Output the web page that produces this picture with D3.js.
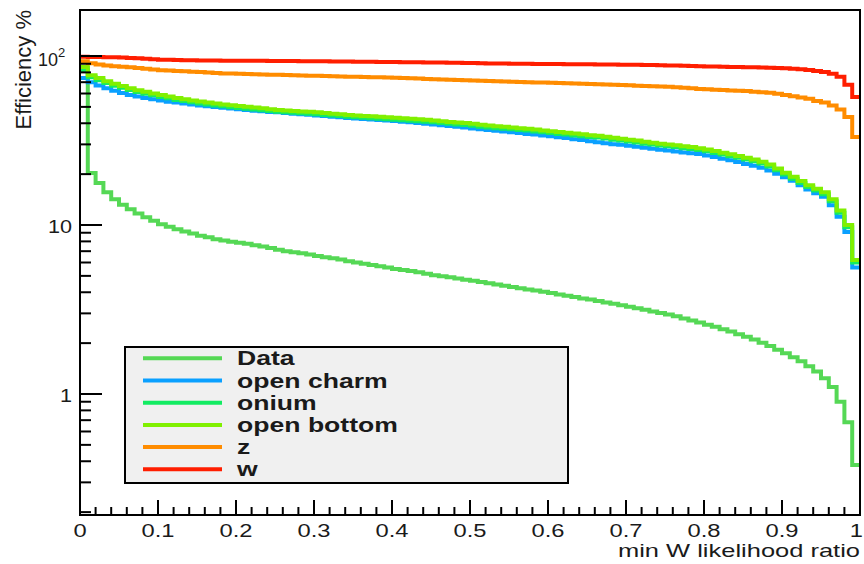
<!DOCTYPE html>
<html>
<head>
<meta charset="utf-8">
<script src="https://cdn.jsdelivr.net/npm/d3@7"></script>
<style>
  body { margin: 0; background: #fff; }
  svg { display: block; }
  text { font-family: "Liberation Sans", Arial, Helvetica, sans-serif; fill: #1a1a1a; }
</style>
</head>
<body>
<svg id="chart" width="864" height="564"></svg>
<script>
// Cumulative efficiency (%) versus the cut on the minimum W likelihood ratio,
// 100 bins of width 0.01 from 0 to 1.
const binWidth = 0.01;

const dataEff = [
  85, 20.3, 17.7, 15.6, 14.2, 13.2, 12.4, 11.7, 11.1, 10.6,
  10.1, 9.75, 9.45, 9.15, 8.9, 8.65, 8.45, 8.25, 8.1, 7.95,
  7.85, 7.75, 7.6, 7.45, 7.3, 7.15, 7.0, 6.9, 6.8, 6.7,
  6.55, 6.45, 6.35, 6.25, 6.1, 6.0, 5.9, 5.8, 5.7, 5.6,
  5.5, 5.42, 5.35, 5.25, 5.15, 5.05, 4.98, 4.9, 4.82, 4.75,
  4.68, 4.6, 4.52, 4.44, 4.37, 4.3, 4.23, 4.16, 4.1, 4.03,
  3.96, 3.88, 3.82, 3.75, 3.68, 3.62, 3.55, 3.48, 3.42, 3.35,
  3.28, 3.22, 3.15, 3.08, 3.02, 2.95, 2.88, 2.8, 2.72, 2.65,
  2.57, 2.5, 2.42, 2.34, 2.26, 2.18, 2.1, 2.01, 1.92, 1.83,
  1.74, 1.65, 1.56, 1.46, 1.36, 1.24, 1.1, 0.9, 0.68, 0.38
];

const openCharmEff = [
  74, 70, 67, 64.5, 62.3, 60.4, 58.8, 57.6, 56.5, 55.5,
  54.6, 53.7, 53.0, 52.3, 51.6, 51.0, 50.4, 49.9, 49.4, 48.9,
  48.4, 47.9, 47.5, 47.1, 46.7, 46.4, 46.0, 45.6, 45.2, 44.9,
  44.5, 44.1, 43.7, 43.4, 43.0, 42.7, 42.4, 42.1, 41.8, 41.5,
  41.2, 40.9, 40.6, 40.2, 39.8, 39.4, 38.9, 38.5, 38.1, 37.7,
  37.3, 36.9, 36.5, 36.1, 35.7, 35.4, 35.0, 34.6, 34.3, 33.9,
  33.5, 33.1, 32.7, 32.2, 31.8, 31.3, 30.9, 30.5, 30.1, 29.8,
  29.4, 29.0, 28.7, 28.3, 27.9, 27.6, 27.2, 26.9, 26.6, 26.3,
  25.8, 25.3, 24.7, 24.2, 23.6, 23.0, 22.4, 21.8, 21.0, 20.1,
  19.2, 18.3, 17.2, 16.2, 15.4, 14.7, 13.1, 11.2, 9.1, 5.6
];

const oniumEff = [
  82, 75, 72, 69.3, 66.8, 64.8, 62.9, 61.2, 59.9, 58.5,
  57.3, 56.2, 55.0, 54.1, 53.2, 52.4, 51.7, 51.0, 50.4, 49.8,
  49.3, 48.8, 48.3, 47.8, 47.2, 46.8, 46.4, 46.1, 45.8, 45.6,
  45.2, 44.8, 44.5, 44.1, 43.7, 43.4, 43.1, 42.9, 42.6, 42.3,
  42.0, 41.7, 41.4, 41.1, 40.8, 40.5, 40.1, 39.7, 39.4, 39.1,
  38.7, 38.2, 37.8, 37.4, 37.1, 36.9, 36.5, 36.2, 35.8, 35.4,
  35.0, 34.6, 34.3, 33.9, 33.5, 33.2, 32.9, 32.5, 32.0, 31.6,
  31.2, 30.8, 30.3, 29.9, 29.5, 29.2, 28.9, 28.5, 28.2, 27.8,
  27.3, 26.7, 26.1, 25.5, 25.0, 24.4, 23.8, 23.1, 22.2, 21.1,
  19.9, 18.8, 17.7, 16.8, 16.0, 15.2, 13.8, 11.8, 9.7, 6.0
];

const openBottomEff = [
  86, 77, 74, 71, 68.5, 66.5, 64.5, 62.8, 61.5, 60.0,
  58.8, 57.6, 56.4, 55.5, 54.6, 53.8, 53.0, 52.3, 51.7, 51.1,
  50.6, 50.1, 49.6, 49.0, 48.4, 48.0, 47.6, 47.3, 47.0, 46.8,
  46.4, 46.0, 45.6, 45.2, 44.8, 44.5, 44.2, 44.0, 43.7, 43.4,
  43.1, 42.8, 42.5, 42.2, 41.9, 41.5, 41.1, 40.7, 40.4, 40.1,
  39.7, 39.2, 38.8, 38.4, 38.1, 37.8, 37.4, 37.1, 36.7, 36.3,
  35.9, 35.5, 35.2, 34.8, 34.4, 34.0, 33.7, 33.3, 32.8, 32.4,
  32.0, 31.6, 31.1, 30.7, 30.3, 30.0, 29.6, 29.2, 28.9, 28.5,
  28.0, 27.4, 26.8, 26.2, 25.6, 25.0, 24.4, 23.7, 22.8, 21.6,
  20.4, 19.3, 18.2, 17.2, 16.4, 15.6, 14.2, 12.2, 10.0, 6.2
];

const zEff = [
  93, 90.5, 89.1, 87.9, 87.0, 86.5, 85.7, 84.9, 84.1, 83.3,
  82.5, 82.1, 81.6, 81.2, 80.7, 80.3, 79.8, 79.4, 78.9, 78.7,
  78.5, 78.3, 78.0, 77.8, 77.6, 77.4, 77.1, 76.9, 76.7, 76.5,
  76.3, 76.1, 75.9, 75.7, 75.5, 75.4, 75.2, 75.0, 74.8, 74.6,
  74.4, 74.1, 73.8, 73.5, 73.2, 72.9, 72.7, 72.4, 72.1, 71.9,
  71.6, 71.4, 71.1, 70.9, 70.7, 70.5, 70.3, 70.0, 69.8, 69.6,
  69.4, 69.2, 69.0, 68.8, 68.5, 68.3, 68.1, 67.9, 67.7, 67.4,
  67.1, 66.8, 66.5, 66.3, 66.0, 65.7, 65.4, 64.9, 64.4, 63.9,
  63.5, 63.2, 62.9, 62.6, 62.3, 62.0, 61.5, 61.0, 60.6, 59.9,
  58.8, 57.8, 56.9, 55.8, 54.2, 53.0, 51.0, 48.2, 43.5, 33.2
];

const wEff = [
  99.0, 98.8, 98.6, 98.4, 98.2, 97.9, 97.5, 97.0, 96.2, 95.6,
  95.2, 94.9, 94.7, 94.5, 94.3, 94.2, 94.1, 94.0, 93.9, 93.9,
  93.8, 93.7, 93.6, 93.6, 93.5, 93.4, 93.3, 93.3, 93.2, 93.1,
  93.0, 93.0, 92.9, 92.8, 92.7, 92.6, 92.5, 92.4, 92.3, 92.2,
  92.1, 92.0, 91.9, 91.8, 91.7, 91.6, 91.4, 91.3, 91.2, 91.0,
  90.8, 90.6, 90.4, 90.3, 90.2, 90.1, 90.0, 89.9, 89.8, 89.7,
  89.7, 89.6, 89.5, 89.4, 89.3, 89.3, 89.2, 89.1, 89.0, 88.9,
  88.8, 88.7, 88.6, 88.4, 88.2, 88.0, 87.8, 87.6, 87.3, 87.0,
  86.8, 86.6, 86.4, 86.2, 86.0, 85.9, 85.7, 85.5, 85.3, 85.0,
  84.6, 84.2, 83.6, 82.6, 81.5, 80.3, 78.6, 75.5, 67.5, 57.2
];

const seriesNames  = ["Data", "open charm", "onium", "open bottom", "z", "w"];
const seriesValues = [dataEff, openCharmEff, oniumEff, openBottomEff, zEff, wEff];
const seriesColors = ["#55d855", "#0aa0ff", "#12ec62", "#80f000", "#ff8c00", "#ff1e00"];

const xMajorTicks  = [0, 0.1, 0.2, 0.3, 0.4, 0.5, 0.6, 0.7, 0.8, 0.9, 1];
const xTickLabels  = ["0", "0.1", "0.2", "0.3", "0.4", "0.5", "0.6", "0.7", "0.8", "0.9", "1"];
const yMajorTicks  = [1, 10, 100];
const yTickLabels  = ["1", "10", "10"];
const xTitle = "min W likelihood ratio";
const yTitle = "Efficiency %";

// ---- layout ----
const frame = { left: 80, right: 860, top: 10, bottom: 515 };
const svg = d3.select("#chart");

const x = d3.scaleLinear().domain([0, 1]).range([frame.left, frame.right]);
const y = d3.scaleLog().domain([0.1923, 187.2]).range([frame.bottom, frame.top]);

svg.append("defs").append("clipPath").attr("id", "plotClip")
  .append("rect")
  .attr("x", frame.left).attr("y", frame.top)
  .attr("width", frame.right - frame.left)
  .attr("height", frame.bottom - frame.top);

// ---- histogram step lines ----
const stepLine = d3.line()
  .x(d => x(d[0]))
  .y(d => y(d[1]))
  .curve(d3.curveStepAfter);

const curves = svg.append("g").attr("clip-path", "url(#plotClip)");
seriesValues.forEach((vals, k) => {
  const pts = vals.map((v, i) => [i * binWidth, v]);
  pts.push([vals.length * binWidth, vals[vals.length - 1]]);
  curves.append("path")
    .attr("d", stepLine(pts))
    .attr("fill", "none")
    .attr("stroke", seriesColors[k])
    .attr("stroke-width", 4)
    .attr("stroke-linejoin", "miter");
});

// ---- frame ----
svg.append("rect")
  .attr("x", frame.left).attr("y", frame.top)
  .attr("width", frame.right - frame.left)
  .attr("height", frame.bottom - frame.top)
  .attr("fill", "none").attr("stroke", "#000").attr("stroke-width", 2);

// ---- x axis ticks (pointing up into the frame) ----
const xMinor = d3.range(0, 51).map(i => i / 50);
const xAxisG = svg.append("g").attr("stroke", "#000").attr("stroke-width", 2);
xMinor.forEach(v => {
  const major = Math.abs(v * 10 - Math.round(v * 10)) < 1e-9;
  xAxisG.append("line")
    .attr("x1", x(v)).attr("x2", x(v))
    .attr("y1", frame.bottom).attr("y2", frame.bottom - (major ? 15 : 8));
});

xMajorTicks.forEach((v, i) => {
  const last = i === xMajorTicks.length - 1;
  svg.append("text")
    .attr("transform", `translate(${last ? 863 : x(v)},537) scale(1.32,1)`)
    .attr("text-anchor", last ? "end" : "middle")
    .attr("font-size", 18)
    .text(xTickLabels[i]);
});

// ---- y axis ticks (log, pointing right into the frame) ----
const yAxisG = svg.append("g").attr("stroke", "#000").attr("stroke-width", 2);
const [y0, y1] = y.domain();
for (let e = -1; e <= 2; e++) {
  for (let m = 1; m <= 9; m++) {
    const v = m * Math.pow(10, e);
    if (v < y0 || v > y1) continue;
    yAxisG.append("line")
      .attr("x1", frame.left).attr("x2", frame.left + (m === 1 ? 22 : 11))
      .attr("y1", y(v)).attr("y2", y(v));
  }
}

yMajorTicks.forEach((v, i) => {
  if (v === 100) {
    svg.append("text")
      .attr("transform", `translate(58,${y(v) + 10})`)
      .attr("text-anchor", "end")
      .attr("font-size", 18)
      .text(yTickLabels[i]);
    svg.append("text")
      .attr("transform", `translate(58,${y(v) + 1})`)
      .attr("font-size", 13)
      .text("2");
  } else {
    svg.append("text")
      .attr("transform", `translate(72,${y(v) + 8}) scale(1.2,1)`)
      .attr("text-anchor", "end")
      .attr("font-size", 18)
      .text(yTickLabels[i]);
  }
});

// ---- axis titles ----
svg.append("text")
  .attr("x", frame.right).attr("y", 557)
  .attr("text-anchor", "end")
  .attr("font-size", 19)
  .attr("textLength", 242)
  .attr("lengthAdjust", "spacingAndGlyphs")
  .text(xTitle);

svg.append("text")
  .attr("transform", `translate(31,${frame.top}) rotate(-90)`)
  .attr("text-anchor", "end")
  .attr("font-size", 22)
  .text(yTitle);

// ---- legend ----
const legend = { x: 125, y: 347, w: 443, h: 136, row0: 358.3, rowStep: 22.2 };
const lg = svg.append("g");
lg.append("rect")
  .attr("x", legend.x).attr("y", legend.y)
  .attr("width", legend.w).attr("height", legend.h)
  .attr("fill", "#f0f0f0").attr("stroke", "#000").attr("stroke-width", 2);

seriesNames.forEach((name, k) => {
  const ry = legend.row0 + k * legend.rowStep;
  lg.append("line")
    .attr("x1", 143).attr("x2", 222)
    .attr("y1", ry).attr("y2", ry)
    .attr("stroke", seriesColors[k]).attr("stroke-width", 4);
  lg.append("text")
    .attr("transform", `translate(237,${ry + 7}) scale(1.33,1)`)
    .attr("font-size", 20)
    .attr("font-weight", "bold")
    .text(name);
});
</script>
</body>
</html>
